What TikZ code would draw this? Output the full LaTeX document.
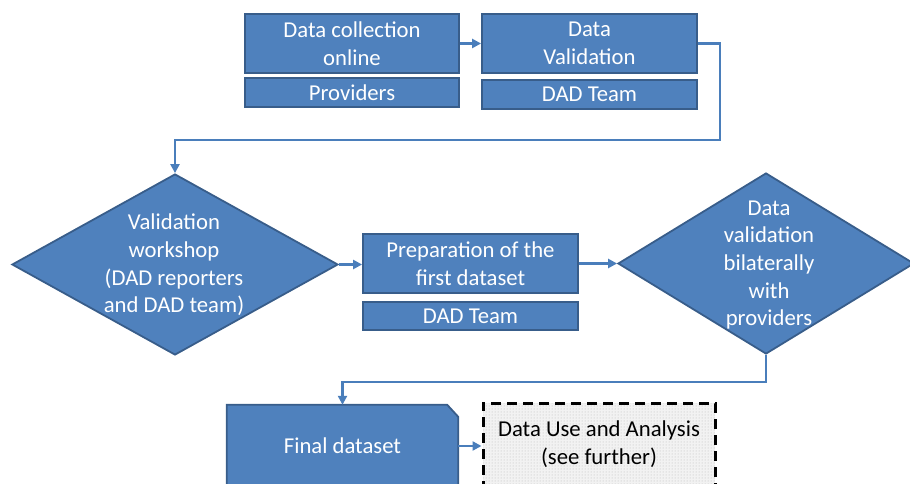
\documentclass[tikz,border=0pt]{standalone}
\usepackage{fontspec}
\setmainfont{Carlito}
\usetikzlibrary{arrows.meta,shapes.geometric,patterns,backgrounds}
\definecolor{boxfill}{HTML}{4F81BD}
\definecolor{boxline}{HTML}{385D8A}
\definecolor{linkblue}{HTML}{4A7EBB}
\begin{document}
\begin{tikzpicture}[x=1pt,y=-1pt,
  lbl/.style={font=\fontsize{22.7}{27.7}\selectfont, align=center},
  bluebox/.style={lbl, rectangle, fill=boxfill, draw=boxline, line width=1.8pt, text=white, inner sep=0pt},
  bluediamond/.style={diamond, fill=boxfill, draw=boxline, line width=1.8pt, inner sep=0pt},
  whitetext/.style={lbl, text=white},
  link/.style={draw=linkblue, line width=2.8pt, -{Triangle[length=9pt,width=9pt]}},
  futurebox/.style={lbl, rectangle, inner sep=0pt, text=black, draw=black, line width=3pt,
    dash pattern=on 10pt off 6pt, preaction={fill=gray!10}, pattern=dots, pattern color=gray!55},
]
\useasboundingbox (0,0) rectangle (910,484);
\clip (0,0) rectangle (910,484);

% top row: collection and validation with their owners
\node[bluebox, minimum width=214pt, minimum height=59pt] (collect) at (352,43.5) {Data collection\\online};
\node[bluebox, minimum width=214pt, minimum height=29pt] (providers) at (352,92.5) {Providers};
\node[bluebox, minimum width=215pt, minimum height=59pt] (valid) at (589.5,43.5) {Data\\Validation};
\node[bluebox, minimum width=215pt, minimum height=29pt] (teamtop) at (589.5,94.5) {DAD Team};

% middle row: workshop, preparation, bilateral validation
\node[bluediamond, minimum width=326pt, minimum height=181pt] (workshop) at (175,264.5) {};
\node[whitetext] (workshoptxt) at (174,265) {Validation\\workshop\\(DAD reporters\\and DAD team)};
\node[bluebox, minimum width=215pt, minimum height=59pt] (prep) at (470.5,263.5) {Preparation of the\\first dataset};
\node[bluebox, minimum width=215pt, minimum height=28pt] (teammid) at (470.5,316) {DAD Team};
\node[bluediamond, minimum width=296pt, minimum height=181pt] (bilateral) at (766,263.5) {};
\node[whitetext] (bilateraltxt) at (769,265) {Data\\validation\\bilaterally\\with\\providers};

% bottom row: final dataset and further use
\node[whitetext, minimum width=231pt, minimum height=82pt, inner sep=0pt] (final) at (342.5,446) {Final dataset};
\begin{scope}[on background layer]
  \filldraw[fill=boxfill, draw=boxline, line width=1.8pt]
    (final.south west) -- (final.north west) -- ([xshift=-11pt]final.north east)
    -- ([yshift=-12pt]final.north east) -- (final.south east) -- cycle;
\end{scope}
\node[futurebox, minimum width=232pt, minimum height=82pt] (use) at (599,444) {Data Use and Analysis\\(see further)};

% connectors
\coordinate (bendtop) at (720,140);
\coordinate (lowlevel) at (0,382);
\coordinate (bendlow) at (final.north |- lowlevel);
\draw[link] (collect.east) -- (valid.west);
\draw[link] (valid.east) -| (bendtop) -| (workshop.north);
\draw[link] (workshop.east) -- (workshop.east -| prep.west);
\draw[link] (prep.east) -- (prep.east -| bilateral.west);
\draw[link] (bilateral.south) |- (bendlow) -- (final.north);
\draw[link] (final.east) -- (final.east -| use.west);
\end{tikzpicture}
\end{document}
